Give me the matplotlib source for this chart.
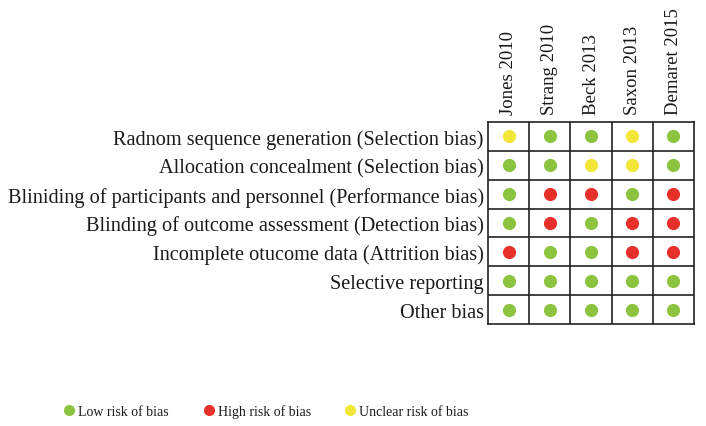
import matplotlib.pyplot as plt
from matplotlib.lines import Line2D

plt.rcParams['font.family'] = ['Liberation Serif', 'DejaVu Serif']

studies = ["Jones 2010", "Strang 2010", "Beck 2013", "Saxon 2013", "Demaret 2015"]
domains = [
    "Radnom sequence generation (Selection bias)",
    "Allocation concealment (Selection bias)",
    "Bliniding of participants and personnel (Performance bias)",
    "Blinding of outcome assessment (Detection bias)",
    "Incomplete otucome data (Attrition bias)",
    "Selective reporting",
    "Other bias",
]
# L = low, H = high, U = unclear
judgements = [
    ["U", "L", "L", "U", "L"],
    ["L", "L", "U", "U", "L"],
    ["L", "H", "H", "L", "H"],
    ["L", "H", "L", "H", "H"],
    ["H", "L", "L", "H", "H"],
    ["L", "L", "L", "L", "L"],
    ["L", "L", "L", "L", "L"],
]
risk_keys = ["L", "H", "U"]
risk_labels = ["Low risk of bias", "High risk of bias", "Unclear risk of bias"]
risk_colors = {"L": "#8cc43f", "H": "#e8302a", "U": "#f2e637"}

fig = plt.figure(figsize=(7.06, 4.27), dpi=100)
W, H = 706, 427
ax = fig.add_axes([488 / W, 1 - 325 / H, 206 / W, 202 / H])

for i, row in enumerate(judgements):
    for j, r in enumerate(row):
        ax.scatter(j + 0.5, i + 0.5, s=90, color=risk_colors[r], zorder=3,
                   linewidths=0)

ax.set_xlim(0, len(studies))
ax.set_ylim(len(domains), 0)
for k in range(1, len(studies)):
    ax.axvline(k, color="#222222", lw=1.2)
for k in range(1, len(domains)):
    ax.axhline(k, color="#222222", lw=1.2)
for s in ax.spines.values():
    s.set_linewidth(1.2)
    s.set_color("#222222")

ax.set_xticks([j + 0.5 for j in range(len(studies))])
ax.set_xticklabels(studies, rotation=90, fontsize=13.5, color="#1a1a1a")
ax.xaxis.tick_top()
ax.tick_params(axis="x", length=0, pad=6)
ax.set_yticks([i + 0.5 for i in range(len(domains))])
ax.set_yticklabels(domains, fontsize=14.6, color="#1a1a1a")
ax.tick_params(axis="y", length=0, pad=3)

handles = [Line2D([], [], marker="o", ls="", markersize=8,
                  markerfacecolor=risk_colors[k], markeredgewidth=0)
           for k in risk_keys]
fig.legend(handles, risk_labels, loc="center", bbox_to_anchor=(266 / W, 1 - 412 / H),
           ncol=3, frameon=False, fontsize=10, handletextpad=0.2,
           columnspacing=2.4, handlelength=0.9, labelcolor="#1a1a1a")

fig.savefig("out.png", dpi=100)
